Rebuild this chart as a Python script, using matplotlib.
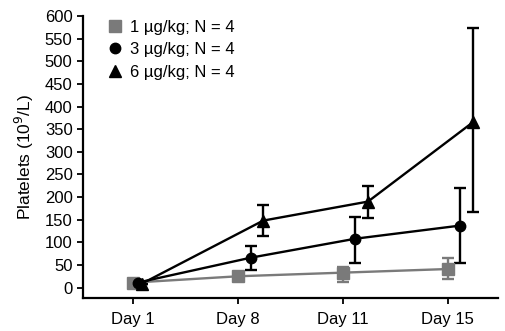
import numpy as np
import matplotlib
matplotlib.use("Agg")
import matplotlib.pyplot as plt

plt.rcParams['font.family'] = ['Liberation Sans', 'DejaVu Sans']

# === Données ===
days = ["Day 1", "Day 8", "Day 11", "Day 15"]
labels = ["1 \u00b5g/kg; N = 4", "3 \u00b5g/kg; N = 4", "6 \u00b5g/kg; N = 4"]

mean_1 = [11, 25, 33, 41]
low_1 = [11, 15, 13, 18]
high_1 = [11, 33, 45, 66]

mean_3 = [11, 66, 108, 137]
low_3 = [11, 38, 55, 55]
high_3 = [11, 91, 155, 219]

mean_6 = [9, 148, 190, 365]
low_6 = [9, 115, 153, 168]
high_6 = [9, 183, 224, 573]

series = [
    (mean_1, low_1, high_1, 's', '#7a7a7a', 8, 0.0),
    (mean_3, low_3, high_3, 'o', 'black', 7.5, 0.12),
    (mean_6, low_6, high_6, '^', 'black', 8, 0.24),
]

# === Figure ===
fig = plt.figure(figsize=(5.06, 3.31), dpi=100)
ax = fig.add_axes([0.164, 0.0997, 0.82, 0.852])

x = np.arange(len(days))
for (m, lo, hi, mk, col, ms, off), lab in zip(series, labels):
    m = np.array(m, dtype=float)
    err = np.array([m - np.array(lo), np.array(hi) - m])
    xs = x + off
    xs[0] = x[0] + off * 0.35
    ax.errorbar(xs, m, yerr=err, fmt='-', marker=mk, color=col, ms=ms,
                lw=1.7, elinewidth=1.7, capsize=4, capthick=1.7, label=lab,
                mec=col, mfc=col)

ax.set_xlim(-0.48, 3.48)
ax.set_ylim(-23, 600)
ax.set_yticks(np.arange(0, 601, 50))
ax.set_xticks(x)
ax.set_xticklabels(days)
ax.spines['top'].set_visible(False)
ax.spines['right'].set_visible(False)
ax.spines['left'].set_linewidth(1.6)
ax.spines['bottom'].set_linewidth(1.6)
ax.tick_params(axis='both', labelsize=12, width=1.3, length=4, direction='out')
ax.tick_params(axis='x', pad=6)
ax.set_ylabel("Platelets (10$^9$/L)", fontsize=12.5, labelpad=6)

handles, lbls = ax.get_legend_handles_labels()
handles = [h[0] for h in handles]
leg = ax.legend(handles, lbls, loc='upper left', bbox_to_anchor=(0.03, 1.04),
                frameon=False, fontsize=12, handlelength=0.6,
                handletextpad=0.6, labelspacing=0.45)
for h in leg.legend_handles:
    h.set_linestyle('none')

fig.savefig("out.png", dpi=100)
